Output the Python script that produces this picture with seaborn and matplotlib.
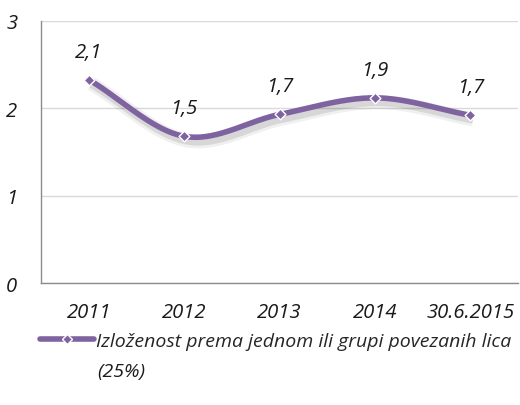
import numpy as np
import pandas as pd
import matplotlib
matplotlib.use("Agg")
import matplotlib.pyplot as plt
import matplotlib.patheffects as pe
from matplotlib.lines import Line2D
import seaborn as sns

categories = ["2011", "2012", "2013", "2014", "30.6.2015"]
values = [2.33, 1.68, 1.93, 2.12, 1.92]
value_labels = ["2,1", "1,5", "1,7", "1,9", "1,7"]
series_name_line1 = "Izloženost prema jednom ili grupi povezanih lica"
series_name_line2 = "(25%)"
yticks = [0, 1, 2, 3]

sns.set_theme(style="white")
plt.rcParams['font.family'] = ['Open Sans', 'DejaVu Sans']
plt.rcParams['font.style'] = 'italic'

FS = 14.6
FSL = 14.0
color = "#7F63A1"
fig = plt.figure(figsize=(5.2, 4.06), dpi=100)
ax = fig.add_axes([41/520, 1 - 284/406, (518 - 41)/520, (284 - 22)/406])

df = pd.DataFrame({"cat": categories, "val": values})
xs = np.arange(len(categories), dtype=float)
ys = np.array(values, dtype=float)

# Smoothed curve (Catmull-Rom rendering of the series)
px = np.concatenate([[2*xs[0]-xs[1]], xs, [2*xs[-1]-xs[-2]]])
py = np.concatenate([[2*ys[0]-ys[1]], ys, [2*ys[-1]-ys[-2]]])
cx, cy = [], []
t = np.linspace(0, 1, 40)
for i in range(1, len(px) - 2):
    p0, p1, p2, p3 = (px[i-1], py[i-1]), (px[i], py[i]), (px[i+1], py[i+1]), (px[i+2], py[i+2])
    for k in range(2):
        a0, a1, a2, a3 = p0[k], p1[k], p2[k], p3[k]
        seg = 0.5 * ((2*a1) + (-a0 + a2)*t + (2*a0 - 5*a1 + 4*a2 - a3)*t**2 + (-a0 + 3*a1 - 3*a2 + a3)*t**3)
        (cx if k == 0 else cy).append(seg)
cx = np.concatenate(cx)
cy = np.concatenate(cy)

shadow = [pe.SimpleLineShadow(offset=(2, -3), shadow_color="black", alpha=0.06, linewidth=10),
          pe.SimpleLineShadow(offset=(2, -3), shadow_color="black", alpha=0.10, linewidth=6),
          pe.Normal()]
ax.plot(cx, cy, color=color, lw=4, solid_capstyle="butt", zorder=3, path_effects=shadow)

sns.scatterplot(data=df, x=xs, y="val", ax=ax, marker="D", s=30, color=color,
                edgecolor="white", linewidth=1.0, zorder=4, legend=False)

for x, y, lab in zip(xs, ys, value_labels):
    ax.annotate(lab, (x, y), xytext=(0, 28), textcoords="offset pixels",
                ha="center", va="center", fontsize=FS, style="italic", color="#1a1a1a")

ax.set_xlabel("")
ax.set_ylabel("")
ax.set_xlim(-0.5, len(categories) - 0.5)
ax.set_ylim(0, 3)
ax.set_yticks(yticks)
ax.set_yticklabels([str(v) for v in yticks])
ax.set_xticks(np.arange(-0.5, len(categories), 1.0), minor=False)
ax.set_xticklabels([])
ax.set_xticks(xs, minor=True)
ax.set_xticklabels(categories, minor=True)
ax.tick_params(axis="x", which="major", length=5, width=1, color="#8c8c8c", direction="out")
ax.tick_params(axis="x", which="minor", length=0, pad=14, labelsize=FS)
ax.tick_params(axis="y", length=5, width=1, color="#8c8c8c", direction="out", labelsize=FS, pad=12)
for lab in ax.get_xticklabels(minor=True) + ax.get_yticklabels():
    lab.set_style("italic")
    lab.set_color("#1a1a1a")
ax.grid(axis="y", color="#d9d9d9", lw=1)
ax.set_axisbelow(True)
for s in ["top", "right"]:
    ax.spines[s].set_visible(False)
for s in ["left", "bottom"]:
    ax.spines[s].set_color("#8c8c8c")
    ax.spines[s].set_linewidth(1)

handle = Line2D([0], [0], color=color, lw=4, marker="D", markersize=5,
                markerfacecolor=color, markeredgecolor="white", markeredgewidth=1)
fig.legend([handle], [series_name_line1], loc="center left", bbox_to_anchor=(40/520, 1 - 342/406),
           frameon=False, handlelength=2.8, handletextpad=0.1,
           prop={"style": "italic", "size": FSL}, borderpad=0, borderaxespad=0)
fig.text(97/520, 1 - 372/406, series_name_line2, ha="left", va="center",
         fontsize=FSL, style="italic", color="#1a1a1a")

fig.savefig("out.png", dpi=100)
